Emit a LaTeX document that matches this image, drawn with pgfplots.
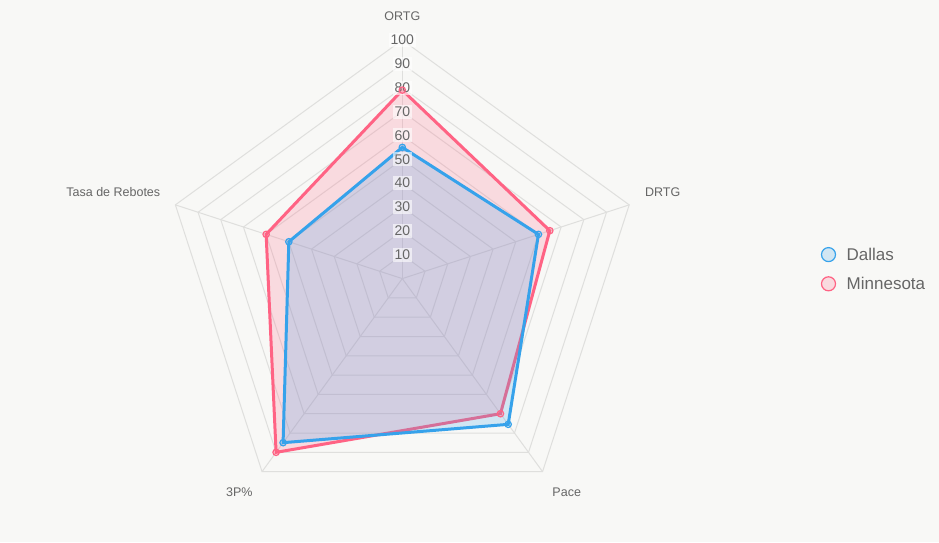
\documentclass[border=0pt]{standalone}
\usepackage{pgfplots}
\pgfplotsset{compat=1.18}
\usepgfplotslibrary{polar}
\usepackage{fontspec}
\setmainfont{Liberation Sans}
\definecolor{bgc}{RGB}{248,248,246}
\definecolor{gridc}{RGB}{223,223,221}
\definecolor{txt}{RGB}{102,102,102}
\definecolor{dal}{RGB}{54,162,235}
\definecolor{mn}{RGB}{255,99,132}
\begin{document}
\begin{tikzpicture}[x=1pt,y=1pt]
\fill[bgc] (0,0) rectangle (939,542);
\begin{polaraxis}[
  at={(402.3pt,263.4pt)}, anchor=center,
  scale only axis, width=477.2pt, height=477.2pt,
  xmin=0, xmax=360, ymin=0, ymax=100,
  hide axis, clip=false,
]
% grid
\pgfplotsinvokeforeach{10,20,...,100}{
  \addplot[gridc, line width=1pt, forget plot] coordinates {(90,#1)(18,#1)(306,#1)(234,#1)(162,#1)} -- cycle;
}
\pgfplotsinvokeforeach{90,18,306,234,162}{
  \addplot[gridc, line width=1pt, forget plot] coordinates {(#1,0)(#1,100)};
}
% Minnesota
\addplot[mn, line width=3pt, fill=mn, fill opacity=0.2, draw opacity=1, forget plot,
  mark=*, mark size=3.2pt, mark options={line width=1.2pt, draw=mn, fill=mn, fill opacity=0.2}]
  coordinates {(90,79)(18,65)(306,70)(234,90)(162,60)} -- cycle;
% Dallas
\addplot[dal, line width=3pt, fill=dal, fill opacity=0.2, draw opacity=1, forget plot,
  mark=*, mark size=3.2pt, mark options={line width=1.2pt, draw=dal, fill=dal, fill opacity=0.2}]
  coordinates {(90,55)(18,60)(306,75.5)(234,85)(162,50)} -- cycle;
% tick labels
\pgfplotsinvokeforeach{10,20,...,100}{
  \node[font=\fontsize{14}{16}\selectfont, text=txt, fill=white, fill opacity=0.6, text opacity=1, inner sep=2pt] at (axis cs:90,#1) {#1};
}
\end{polaraxis}
\begin{axis}[
  at={(820.7pt,272.8pt)}, anchor=center,
  scale only axis, width=2pt, height=2pt,
  xmin=0, xmax=1, ymin=0, ymax=1,
  hide axis,
  legend style={at={(0.5,0.5)}, anchor=west, draw=none, fill=none, inner sep=0pt,
    font=\fontsize{17}{20}\selectfont, text=txt, row sep=14pt,
    nodes={inner sep=0pt}},
  legend cell align=left,
]
\addlegendimage{legend image code/.code={\draw[dal, line width=1.2pt, fill=dal, fill opacity=0.2] (7pt,0) circle (7pt); \path (25pt,0);}}
\addlegendentry{Dallas}
\addlegendimage{legend image code/.code={\draw[mn, line width=1.2pt, fill=mn, fill opacity=0.2] (7pt,0) circle (7pt); \path (25pt,0);}}
\addlegendentry{Minnesota}
\end{axis}
\begin{scope}[font=\fontsize{12.5}{15}\selectfont, text=txt]
\node at (402.3,526) {ORTG};
\node at (662.7,350) {DRTG};
\node at (566.7,49.7) {Pace};
\node at (239.3,49.7) {3P\%};
\node at (113.3,350) {Tasa de Rebotes};
\end{scope}
\pgfresetboundingbox
\path[use as bounding box] (0,0) rectangle (939,542);
\end{tikzpicture}
\end{document}
